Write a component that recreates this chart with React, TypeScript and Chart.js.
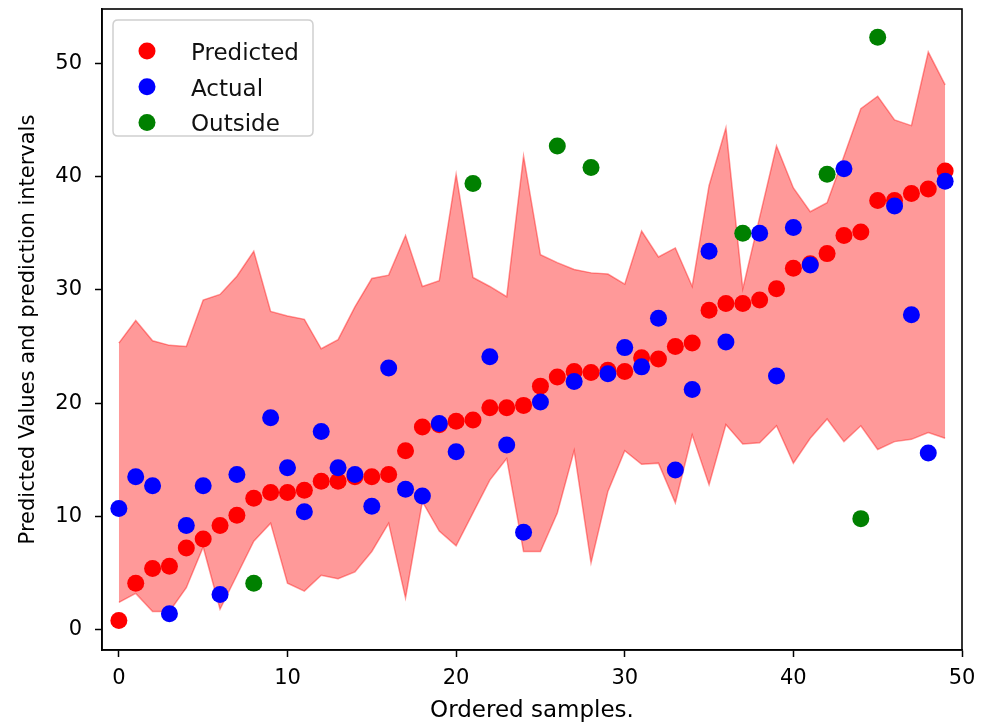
import React, { useEffect, useRef } from "react";
import { Chart, registerables } from "chart.js";

Chart.register(...registerables);

const sampleIdx = [
  0, 1, 2, 3, 4, 5, 6, 7, 8, 9, 10, 11, 12, 13, 14, 15, 16, 17, 18, 19, 20, 21, 22, 23, 24,
  25, 26, 27, 28, 29, 30, 31, 32, 33, 34, 35, 36, 37, 38, 39, 40, 41, 42, 43, 44, 45, 46, 47, 48, 49,
];

const predicted = [
  0.8, 4.1, 5.4, 5.6, 7.2, 8.0, 9.2, 10.1, 11.6, 12.1,
  12.1, 12.3, 13.1, 13.1, 13.5, 13.5, 13.7, 15.8, 17.9, 18.1,
  18.4, 18.5, 19.6, 19.6, 19.8, 21.5, 22.3, 22.8, 22.7, 22.9,
  22.8, 24.0, 23.9, 25.0, 25.3, 28.2, 28.8, 28.8, 29.1, 30.1,
  31.9, 32.3, 33.2, 34.8, 35.1, 37.9, 37.9, 38.5, 38.9, 40.5,
];

const actual: (number | null)[] = [
  10.7, 13.5, 12.7, 1.4, 9.2, 12.7, 3.1, 13.7, null, 18.7,
  14.3, 10.4, 17.5, 14.3, 13.7, 10.9, 23.1, 12.4, 11.8, 18.2,
  15.7, null, 24.1, 16.3, 8.6, 20.1, null, 21.9, null, 22.6,
  24.9, 23.2, 27.5, 14.1, 21.2, 33.4, 25.4, null, 35.0, 22.4,
  35.5, 32.2, null, 40.7, null, null, 37.4, 27.8, 15.6, 39.6,
];

const outsideIdx = [8, 21, 26, 28, 37, 42, 44, 45];
const outsideVals = [4.1, 39.4, 42.7, 40.8, 35.0, 40.2, 9.8, 52.3];

const upper = [
  25.3, 27.3, 25.5, 25.1, 25.0, 29.1, 29.6, 31.2, 33.4, 28.1,
  27.7, 27.4, 24.8, 25.6, 28.5, 31.0, 31.3, 34.8, 30.3, 30.8,
  40.2, 31.1, 30.3, 29.4, 41.8, 33.1, 32.4, 31.8, 31.5, 31.4,
  30.5, 35.2, 32.9, 33.7, 30.3, 39.2, 44.3, 30.1, 36.4, 42.7,
  39.0, 36.9, 37.7, 41.8, 46.0, 47.1, 45.0, 44.5, 51.0, 48.1,
];

const lower = [
  2.4, 3.2, 1.6, 1.6, 3.7, 7.3, 1.8, 4.8, 7.8, 9.4,
  4.1, 3.4, 4.8, 4.5, 5.1, 6.9, 9.4, 2.8, 11.3, 8.7,
  7.4, 10.3, 13.2, 15.1, 6.9, 6.9, 10.3, 15.8, 5.9, 12.2,
  15.8, 14.6, 14.7, 11.2, 17.2, 12.8, 18.1, 16.4, 16.5, 18.0,
  14.7, 16.9, 18.6, 16.6, 18.0, 15.9, 16.6, 16.8, 17.4, 16.9,
];

const legendLabels = ["Predicted", "Actual", "Outside"];
const legendColors = ["#ff0000", "#0000ff", "#008000"];

const FONT = "'DejaVu Sans', sans-serif";

const framePlugin = {
  id: "frame",
  afterDraw(chart: any) {
    const { ctx, chartArea } = chart;
    ctx.save();
    ctx.strokeStyle = "#000";
    ctx.lineWidth = 1.6;
    ctx.strokeRect(chartArea.left, chartArea.top, chartArea.right - chartArea.left, chartArea.bottom - chartArea.top);
    ctx.restore();
  },
};

const legendPlugin = {
  id: "customLegend",
  afterDraw(chart: any) {
    const { ctx, chartArea } = chart;
    const x0 = chartArea.left + 11;
    const y0 = chartArea.top + 11;
    const w = 200;
    const h = 116;
    ctx.save();
    ctx.beginPath();
    const r = 5;
    ctx.moveTo(x0 + r, y0);
    ctx.lineTo(x0 + w - r, y0);
    ctx.quadraticCurveTo(x0 + w, y0, x0 + w, y0 + r);
    ctx.lineTo(x0 + w, y0 + h - r);
    ctx.quadraticCurveTo(x0 + w, y0 + h, x0 + w - r, y0 + h);
    ctx.lineTo(x0 + r, y0 + h);
    ctx.quadraticCurveTo(x0, y0 + h, x0, y0 + h - r);
    ctx.lineTo(x0, y0 + r);
    ctx.quadraticCurveTo(x0, y0, x0 + r, y0);
    ctx.closePath();
    ctx.fillStyle = "rgba(255,255,255,0.8)";
    ctx.fill();
    ctx.strokeStyle = "#d0d0d0";
    ctx.lineWidth = 1.5;
    ctx.stroke();
    ctx.font = `23px ${FONT}`;
    ctx.textBaseline = "alphabetic";
    ctx.textAlign = "left";
    legendLabels.forEach((label, i) => {
      const cy = y0 + 31 + i * 35.8;
      ctx.beginPath();
      ctx.arc(x0 + 34, cy, 8.5, 0, Math.PI * 2);
      ctx.fillStyle = legendColors[i];
      ctx.fill();
      ctx.fillStyle = "#111";
      ctx.fillText(label, x0 + 78, cy + 8.7);
    });
    ctx.restore();
  },
};

function zeroPad(scale: any) {
  scale.paddingTop = 0;
  scale.paddingBottom = 0;
  scale.paddingLeft = 0;
  scale.paddingRight = 0;
}

export default function App() {
  const canvasRef = useRef<HTMLCanvasElement | null>(null);

  useEffect(() => {
    const canvas = canvasRef.current;
    if (!canvas) return;
    const bandStyle = {
      borderColor: "rgba(255,0,0,0.4)",
      borderWidth: 1.5,
      pointRadius: 0,
      tension: 0,
      showLine: true,
    };
    const chart = new Chart(canvas, {
      type: "line",
      data: {
        datasets: [
          {
            label: "Outside",
            data: outsideIdx.map((x, i) => ({ x, y: outsideVals[i] })),
            showLine: false,
            pointRadius: 8.5,
            pointBackgroundColor: "#008000",
            pointBorderWidth: 0,
            borderColor: "#008000",
            order: 0,
          },
          {
            label: "Actual",
            data: sampleIdx.map((x, i) => ({ x, y: actual[i] })),
            showLine: false,
            pointRadius: 8.5,
            pointBackgroundColor: "#0000ff",
            pointBorderWidth: 0,
            borderColor: "#0000ff",
            order: 1,
          },
          {
            label: "Predicted",
            data: sampleIdx.map((x, i) => ({ x, y: predicted[i] })),
            showLine: false,
            pointRadius: 8.5,
            pointBackgroundColor: "#ff0000",
            pointBorderWidth: 0,
            borderColor: "#ff0000",
            order: 2,
          },
          {
            label: "Lower",
            data: sampleIdx.map((x, i) => ({ x, y: lower[i] })),
            ...bandStyle,
            fill: false,
            order: 4,
          },
          {
            label: "Upper",
            data: sampleIdx.map((x, i) => ({ x, y: upper[i] })),
            ...bandStyle,
            fill: { target: 3 },
            backgroundColor: "rgba(255,0,0,0.4)",
            order: 3,
          },
        ],
      },
      options: {
        animation: false,
        responsive: false,
        maintainAspectRatio: false,
        spanGaps: false,
        layout: { padding: { left: 0, top: 9, right: 25, bottom: 0 } },
        plugins: {
          legend: { display: false },
          tooltip: { enabled: false },
        },
        scales: {
          x: {
            type: "linear",
            min: -1,
            max: 50,
            afterFit(scale: any) {
              scale.height = 75;
              zeroPad(scale);
            },
            ticks: {
              stepSize: 10,
              includeBounds: false,
              color: "#000",
              padding: 9,
              maxRotation: 0,
              font: { family: FONT, size: 21 },
            },
            grid: {
              drawOnChartArea: false,
              drawTicks: true,
              tickLength: 7,
              tickColor: "#000",
              tickWidth: 1.5,
            },
            border: { display: true, color: "#000", width: 1.6 },
            title: {
              display: true,
              text: "Ordered samples.",
              color: "#000",
              font: { family: FONT, size: 23 },
              padding: { top: 0, bottom: 0 },
            },
          },
          y: {
            type: "linear",
            min: -1.8,
            max: 54.8,
            afterFit(scale: any) {
              scale.width = 102;
              zeroPad(scale);
            },
            ticks: {
              stepSize: 10,
              includeBounds: false,
              color: "#000",
              padding: 13,
              font: { family: FONT, size: 21 },
            },
            grid: {
              drawOnChartArea: false,
              drawTicks: true,
              tickLength: 7,
              tickColor: "#000",
              tickWidth: 1.5,
            },
            border: { display: true, color: "#000", width: 1.6 },
            title: {
              display: true,
              text: "Predicted Values and prediction intervals",
              color: "#000",
              font: { family: FONT, size: 21 },
              padding: { top: 16, bottom: 0 },
            },
          },
        },
      },
      plugins: [framePlugin, legendPlugin],
    } as any);
    return () => chart.destroy();
  }, []);

  return (
    <div style={{ position: "fixed", left: 0, top: 0, width: 987, height: 725, background: "#fff" }}>
      <canvas ref={canvasRef} width={987} height={725} style={{ width: 987, height: 725 }} />
    </div>
  );
}
